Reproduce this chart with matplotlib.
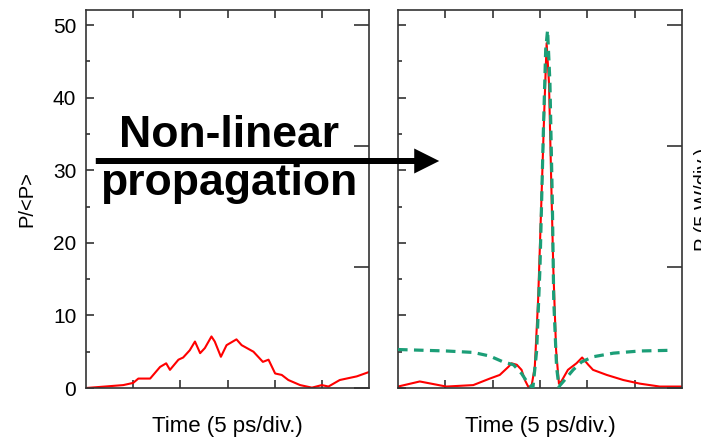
import matplotlib
matplotlib.use('Agg')
import matplotlib.pyplot as plt
from matplotlib.patches import FancyArrowPatch
import numpy as np

plt.rcParams['font.family'] = ['Liberation Sans', 'DejaVu Sans']

# time in divisions (5 ps/div.), power normalised to mean
t_in = [0.0, 0.4, 0.79, 1.0, 1.11, 1.36, 1.57, 1.70, 1.78, 1.96, 2.06, 2.20, 2.31,
        2.42, 2.52, 2.66, 2.73, 2.86, 2.98, 3.19, 3.30, 3.55, 3.75, 3.87, 4.01,
        4.15, 4.29, 4.54, 4.79, 5.0, 5.14, 5.38, 5.74, 6.0]
p_in = [0.0, 0.2, 0.4, 0.7, 1.3, 1.3, 2.9, 3.4, 2.5, 3.9, 4.2, 5.2, 6.4,
        4.8, 5.5, 7.1, 6.4, 4.3, 5.9, 6.7, 5.9, 5.0, 3.6, 3.9, 2.0,
        1.8, 1.1, 0.4, 0.05, 0.4, 0.2, 1.1, 1.6, 2.2]

t_out = [0.0, 0.46, 1.02, 1.59, 1.94, 2.15, 2.33, 2.40, 2.51, 2.61, 2.68, 2.75,
         2.82, 2.89, 2.96, 3.03, 3.09, 3.14, 3.19, 3.23, 3.28, 3.34, 3.40, 3.45,
         3.59, 3.77, 3.89, 4.02, 4.12, 4.41, 4.76, 5.11, 5.53, 6.0]
p_out = [0.2, 0.9, 0.2, 0.4, 1.3, 1.8, 2.9, 3.4, 3.2, 2.5, 1.1, 0.2,
         0.2, 2.9, 12.1, 25.9, 38.1, 47.5, 42.0, 30.5, 16.7, 5.2, 0.6, 0.9,
         2.5, 3.4, 4.2, 3.2, 2.5, 1.8, 1.1, 0.6, 0.2, 0.2]

t_fit = [0.0, 1.02, 1.59, 1.94, 2.22, 2.44, 2.61, 2.75, 2.85, 2.93, 3.0, 3.07,
         3.12, 3.16, 3.21, 3.26, 3.29, 3.35, 3.40, 3.52, 3.70, 3.88, 4.12, 4.55,
         5.11, 5.82]
p_fit = [5.3, 5.1, 4.9, 4.4, 3.6, 3.2, 2.0, 0.6, 0.0, 5.2, 16.7, 35.1,
         46.6, 49.3, 42.0, 25.9, 12.1, 2.9, 0.2, 1.1, 2.5, 3.6, 4.3, 4.8,
         5.1, 5.2]

W, H = 701, 437
fig = plt.figure(figsize=(W/100, H/100), dpi=100)
ax1 = fig.add_axes([86/W, 1-388/H, 283/W, 378/H])
ax2 = fig.add_axes([398/W, 1-388/H, 284/W, 378/H])

spine_c = '#333333'
for i, ax in enumerate([ax1, ax2]):
    ax.set_xlim(0, 6)
    ax.set_ylim(0, 52.07)
    ax.set_xticks([1, 2, 3, 4, 5])
    ax.set_xticklabels([])
    ax.set_yticks([0, 10, 20, 30, 40, 50])
    ax.set_yticks(np.arange(5, 50, 10), minor=True)
    ax.tick_params(axis='x', direction='in', top=True, bottom=True, length=6,
                   width=1.2, color=spine_c)
    ax.tick_params(axis='y', which='major', direction='in', right=False,
                   length=6, width=1.2, color=spine_c, labelsize=15, pad=7)
    ax.tick_params(axis='y', which='minor', direction='in', right=False,
                   length=3, width=1.2, color=spine_c)
    for s in ax.spines.values():
        s.set_color(spine_c)
        s.set_linewidth(1.2)
    ax.set_xlabel('Time (5 ps/div.)', fontsize=16, labelpad=16.5)
    tw = ax.twinx()
    tw.set_ylim(0, 52.07)
    tw.set_yticks([0, 50/3, 100/3, 50])
    tw.set_yticklabels([])
    tw.tick_params(axis='y', direction='in', length=11, width=1.2, color=spine_c)
    for s in tw.spines.values():
        s.set_visible(False)
    if i == 1:
        tw.set_ylabel('P (5 W/div.)', fontsize=14.5, labelpad=5)

ax1.set_ylabel('P/<P>', fontsize=14.5, labelpad=12)
ax2.set_yticklabels([])

ax1.plot(t_in, p_in, color='#ff0000', lw=1.5)
ax2.plot(t_out, p_out, color='#ff0000', lw=1.5, zorder=2)
ax2.plot(t_fit, p_fit, color='#1b9e77', lw=2.3, dashes=(3, 2), zorder=3)

fig.text(229/W, 1-147/H, 'Non-linear', fontsize=32, fontweight='bold',
         ha='center', va='baseline')
fig.text(229/W, 1-195/H, 'propagation', fontsize=32, fontweight='bold',
         ha='center', va='baseline')
arr = FancyArrowPatch((93/W, 1-161/H), (442/W, 1-161/H), transform=fig.transFigure,
                      arrowstyle='simple,head_length=1.0,head_width=1.0,tail_width=0.24',
                      mutation_scale=18, color='black', lw=0)
fig.add_artist(arr)

fig.savefig('out.png', dpi=100)
